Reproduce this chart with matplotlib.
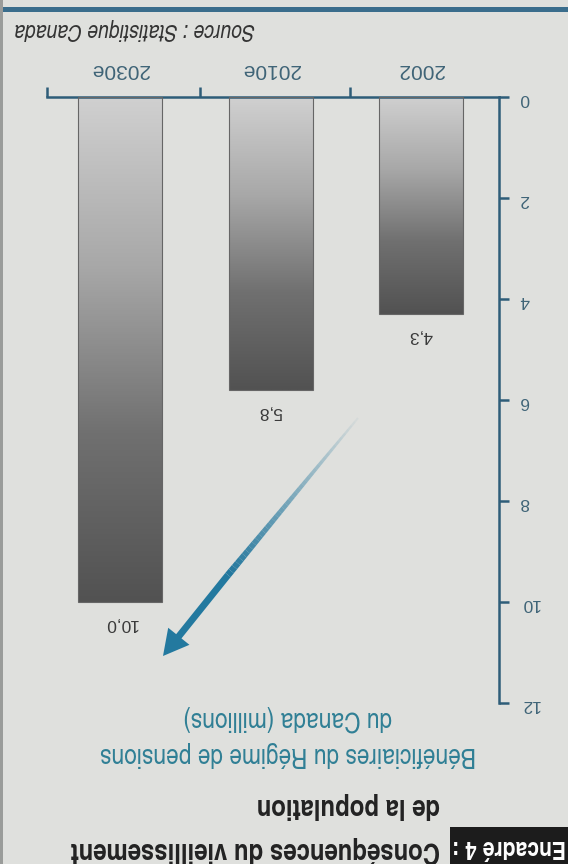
import numpy as np
import matplotlib
matplotlib.use("Agg")
import matplotlib.pyplot as plt
from matplotlib.colors import LinearSegmentedColormap
from matplotlib.collections import LineCollection
from matplotlib.patches import Rectangle, FancyArrowPatch

# the whole page is printed upside down: axes are inverted and text turned 180 degrees
years = ['2002', '2010e', '2030e']
beneficiaries = [4.3, 5.8, 10.0]
value_labels = ['4,3', '5,8', '10,0']
y_ticks = [0, 2, 4, 6, 8, 10, 12]

W, H = 568, 864
bg = '#dfe0dd'
axis_col = '#2e5d78'
label_col = '#3f6477'
teal = '#2f7f95'
narrow = ['TeX Gyre Heros Cn', 'Liberation Sans Narrow', 'DejaVu Sans']
wide = ['Liberation Sans', 'DejaVu Sans']

plt.rcParams['font.family'] = wide

fig = plt.figure(figsize=(W / 100, H / 100), dpi=100, facecolor=bg)


def fx(px):
    return px / W


def fy(py):
    return 1 - py / H


# axes area in pixels (left, top, right, bottom) of the flipped page
ax_l, ax_t, ax_r, ax_b = 47, 97, 499, 703
ax = fig.add_axes([fx(ax_l), fy(ax_b), fx(ax_r) - fx(ax_l), fy(ax_t) - fy(ax_b)])
ax.set_facecolor(bg)

xs = np.arange(len(years))
bar_w = 0.56
bars = ax.bar(xs, beneficiaries, width=bar_w, color='none',
              edgecolor='#666666', linewidth=0.8, zorder=3)

grad = np.linspace(0, 1, 256).reshape(-1, 1)
cmap = LinearSegmentedColormap.from_list('shade', ['#d0d0d0', '#a8a8a8', '#707070', '#525252'])
for x, v, rect in zip(xs, beneficiaries, bars):
    im = ax.imshow(grad, cmap=cmap, aspect='auto', origin='upper',
                   extent=(x - bar_w / 2, x + bar_w / 2, v, 0), zorder=2)
    im.set_clip_path(rect)

for x, v, lab in zip(xs, beneficiaries, value_labels):
    ax.text(x, v + 0.42, lab, rotation=180, ha='center', va='center',
            fontsize=12.5, color='#3a3a3a')

ax.set_xlim(2.487, -0.518)
ax.set_ylim(12, 0)

for side in ['left', 'bottom']:
    ax.spines[side].set_visible(False)
for side in ['top', 'right']:
    ax.spines[side].set_color(axis_col)
    ax.spines[side].set_linewidth(1.8)

ax.yaxis.tick_right()
ax.set_yticks(y_ticks)
ax.set_yticklabels([str(t) for t in y_ticks], rotation=180)
ax.tick_params(axis='y', colors=axis_col, labelcolor=label_col, length=7,
               width=1.8, labelsize=12.5, pad=8)

ax.xaxis.tick_top()
ax.set_xticks(xs)
ax.set_xticklabels(years, rotation=180)
ax.set_xticks([0.47, 1.47, 2.487], minor=True)
ax.tick_params(axis='x', which='major', length=0, labelcolor=label_col,
               labelsize=15, pad=13)
ax.tick_params(axis='x', which='minor', length=7, width=1.8, color=axis_col)

# frame: blue rule at the top edge and a thin grey border on the left
fig.add_artist(Rectangle((0, fy(12)), 1, fy(7) - fy(12), transform=fig.transFigure,
                         color='#3a6d8c', lw=0))
fig.add_artist(Rectangle((0, 0), fx(3), 1, transform=fig.transFigure,
                         color='#9a9c9a', lw=0))

fig.text(fx(255), fy(29), 'Source : Statistique Canada', rotation=180,
         ha='right', va='center', fontsize=17, style='italic', color='#333333',
         family=narrow)

# title block
fig.add_artist(Rectangle((fx(450), 0), 1 - fx(450), fy(827), transform=fig.transFigure,
                         color='#1c1c1c', lw=0))
fig.text(fx(509), fy(846), 'Encadré 4 :', rotation=180, ha='center', va='center',
         fontsize=18.5, weight='bold', color='white', family=narrow)
fig.text(fx(440), fy(850), 'Conséquences du vieillissement', rotation=180,
         ha='right', va='center', fontsize=21, weight='bold', color='#222222',
         family=narrow)
fig.text(fx(440), fy(805), 'de la population', rotation=180,
         ha='right', va='center', fontsize=21, weight='bold', color='#222222',
         family=narrow)
fig.text(fx(288), fy(754), 'Bénéficiaires du Régime de pensions', rotation=180,
         ha='center', va='center', fontsize=20, color=teal, family=narrow)
fig.text(fx(288), fy(718), 'du Canada (millions)', rotation=180,
         ha='center', va='center', fontsize=20, color=teal, family=narrow)

# pointer arrow, fading out towards its tail
tail = np.array([fx(358), fy(418)])
mid = np.array([fx(228), fy(575)])
head = np.array([fx(163), fy(656)])
n = 40
pts = np.linspace(tail, mid, n + 1)
segs = np.stack([pts[:-1], pts[1:]], axis=1)
alphas = np.linspace(0.05, 1.0, n)
cols = [(0.14, 0.47, 0.62, a) for a in alphas]
widths = np.linspace(1.5, 4.9, n)
fig.add_artist(LineCollection(segs, colors=cols, linewidths=widths,
                              transform=fig.transFigure, capstyle='butt'))
fig.add_artist(FancyArrowPatch(mid, head, transform=fig.transFigure,
                               arrowstyle='simple,head_length=1.3,head_width=1.4,tail_width=0.35',
                               mutation_scale=14, color='#23799f', lw=0,
                               shrinkA=0, shrinkB=0))

fig.savefig('out.png', dpi=100, facecolor=bg)
